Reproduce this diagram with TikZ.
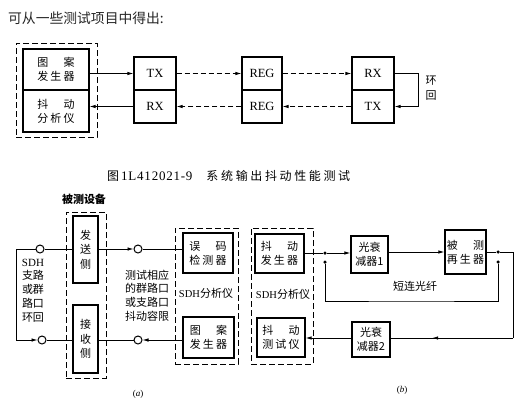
\documentclass[tikz,border=0pt]{standalone}
\usepackage{fontspec}
\setmainfont{Liberation Serif}
\newfontfamily\cjk{Noto Sans CJK SC}
\newfontfamily\cjks[LetterSpace=20]{Noto Sans CJK SC}
\newfontfamily\cjkc[LetterSpace=22]{Noto Sans CJK SC}
\newfontfamily\numf[LetterSpace=6]{Liberation Serif}
\usetikzlibrary{arrows.meta,decorations.markings,calc}
\tikzset{
 box/.style={draw, line width=1.2pt, inner sep=0pt, align=center, font=\fontsize{11}{14}\selectfont\cjks},
 latbox/.style={draw, line width=1.2pt, inner sep=0pt, minimum width=42pt, minimum height=33pt, font=\fontsize{12.5}{14}\selectfont},
 dbox/.style={draw, line width=0.9pt, dash pattern=on 6pt off 3pt, inner sep=0pt},
 arr/.style={-{Latex[length=6pt,width=3.5pt]}},
 ln/.style={line width=0.8pt},
 dln/.style={line width=0.8pt, dash pattern=on 5pt off 3pt},
 port/.style={circle, draw, line width=1pt, fill=white, minimum size=8pt, inner sep=0pt},
 dotn/.style={circle, fill, minimum size=3.5pt, inner sep=0pt},
 lbl/.style={align=center, inner sep=0pt, font=\fontsize{11}{13.7}\selectfont\cjk},
 midarr/.style={postaction={decorate}, decoration={markings, mark=at position 0.66 with {\arrow{Latex[length=6pt,width=3.5pt]}}}},
}
\begin{document}
\begin{tikzpicture}[x=1pt,y=-1pt]
\useasboundingbox (0,0) rectangle (531,407);
\fill[white] (0,0) rectangle (531,407);
% title
\node[anchor=west, inner sep=0pt, font=\fontsize{13.8}{16}\selectfont\cjk, text=black!85] (title) at (8,18) {可从一些测试项目中得出:};
% top diagram
\node[dbox, minimum width=81pt, minimum height=94pt] (outer) at (56.5,90) {};
\node[box, minimum width=66pt, minimum height=41pt] (pg) at (56,69.5) {图　案\\发生器};
\node[box, minimum width=66pt, minimum height=42pt] (ja) at (56,111) {抖　动\\分析仪};
\node[latbox] (tx1) at (155,73.5) {TX};
\node[latbox] (rx1) at (155,106.5) {RX};
\node[latbox, minimum width=40pt] (reg1) at (262,73.5) {REG};
\node[latbox, minimum width=40pt] (reg2) at (262,106.5) {REG};
\node[latbox] (rx2) at (373,73.5) {RX};
\node[latbox] (tx2) at (373,106.5) {TX};
\draw[ln,arr] (pg.east |- tx1.west) -- (tx1.west);
\draw[ln,arr] (rx1.west) -- (rx1.west -| ja.east);
\draw[dln,arr] (tx1.east) -- (reg1.west);
\draw[dln,arr] (reg1.east) -- (rx2.west);
\draw[dln,arr] (tx2.west) -- (reg2.east);
\draw[dln,arr] (reg2.west) -- (rx1.east);
\draw[ln,arr] (rx2.east) -- ++(24,0) |- (tx2.east);
\node[lbl, font=\fontsize{11}{15}\selectfont\cjk] (hh) at (431,88) {环\\回};
% caption
\node[anchor=west, inner sep=0pt, font=\fontsize{13}{15}\selectfont] (cap) at (107,176) {{\cjk\fontsize{12}{14}\selectfont 图}\hspace{2pt}{\numf 1L412021-9}\hspace{14pt}{\cjkc\fontsize{12}{14}\selectfont 系统输出抖动性能测试}};
% (a)
\node[inner sep=0pt, font=\fontsize{11}{13}\selectfont\cjk\bfseries] (dut) at (84,199) {被测设备};
\node[dbox, minimum width=40pt, minimum height=166pt] (da) at (86,295) {};
\node[box, font=\fontsize{11}{14.5}\selectfont\cjk, minimum width=25pt, minimum height=67pt] (fs) at (85.5,249.5) {发\\送\\侧};
\node[box, font=\fontsize{11}{14.5}\selectfont\cjk, minimum width=25pt, minimum height=68pt] (js) at (85.5,339) {接\\收\\侧};
\coordinate (L1) at (16,249);
\coordinate (L2) at (16,340);
\node[port] (c1) at (40,249) {};
\node[port] (c2) at (138,249) {};
\node[port] (c3) at (42,340) {};
\node[port] (c4) at (138,340) {};
\node[dbox, minimum width=63pt, minimum height=136pt] (sa) at (206.5,296) {};
\node[box, minimum width=50pt, minimum height=40pt] (wm) at (208,253) {误　码\\检测器};
\node[box, minimum width=51pt, minimum height=41pt] (pg2) at (208.5,337.5) {图　案\\发生器};
\draw[ln] (L1) -- (c1);
\draw[ln] (c1) -- (c1 -| fs.west);
\draw[ln,arr] (c2 -| fs.east) -- (c2);
\draw[ln] (c2) -- (c2 -| wm.west);
\draw[ln] (L1) -- (L2);
\draw[ln,arr] (L2) -- (c3);
\draw[ln] (c3) -- (c3 -| js.west);
\draw[ln] (c4) -- (c4 -| js.east);
\draw[ln,arr] (c4 -| pg2.west) -- (c4);
\node[lbl, font=\fontsize{11}{13.75}\selectfont\cjk] (sdh) at (33,290.5) {{\rmfamily SDH}\\支路\\或群\\路口\\环回};
\node[lbl] (tst) at (147,295.5) {测试相应\\的群路口\\或支路口\\抖动容限};
\node[lbl] (sa1) at (206,293) {{\rmfamily\fontsize{10.5}{12}\selectfont SDH}分析仪};
\node[inner sep=0pt, font=\fontsize{9}{11}\selectfont] (la) at (138,394) {(\textit{a})};
% (b)
\node[dbox, minimum width=62pt, minimum height=136pt] (sb) at (282,296) {};
\node[box, minimum width=49pt, minimum height=39pt] (jd) at (279.5,253.5) {抖　动\\发生器};
\node[lbl] (sa2) at (283,294) {{\rmfamily\fontsize{10.5}{12}\selectfont SDH}分析仪};
\node[box, minimum width=48pt, minimum height=39pt] (jc) at (281,337.5) {抖　动\\测试仪};
\node[box, font=\fontsize{11}{14}\selectfont\cjk, minimum width=37pt, minimum height=37pt] (g1) at (369.5,254.5) {光衰\\减器1};
\node[box, minimum width=41pt, minimum height=44pt] (rg) at (465.5,252) {被　测\\再生器};
\node[box, font=\fontsize{11}{14}\selectfont\cjk, minimum width=38pt, minimum height=35pt] (g2) at (371,339.5) {光衰\\减器2};
\node[dotn] (d1) at (325,253) {};
\node[dotn] (d2) at (325,262) {};
\node[dotn] (d3) at (498,252) {};
\node[dotn] (d4) at (498,262) {};
\coordinate (fb) at (411,301);
\coordinate (rc) at (513,252);
\coordinate (rb) at (513,338);
\draw[ln] (jd.east |- d1) -- (d1);
\draw[ln,arr] (d1) -- (d1 -| g1.west);
\draw[ln,arr] (g1.east |- rg.west) -- (rg.west);
\draw[ln] (rg.east) -- (d3) -- (rc) -- (rb);
\draw[ln,midarr] (rb) -- (rb -| g2.east);
\draw[ln,arr] (rb -| g2.west) -- (rb -| jc.east);
\draw[ln] (d4) |- (fb) -| (d2);
\node[lbl] (sf) at (415,286) {短连光纤};
\node[inner sep=0pt, font=\fontsize{9}{11}\selectfont] (lb) at (402,390) {(\textit{b})};
\end{tikzpicture}
\end{document}
